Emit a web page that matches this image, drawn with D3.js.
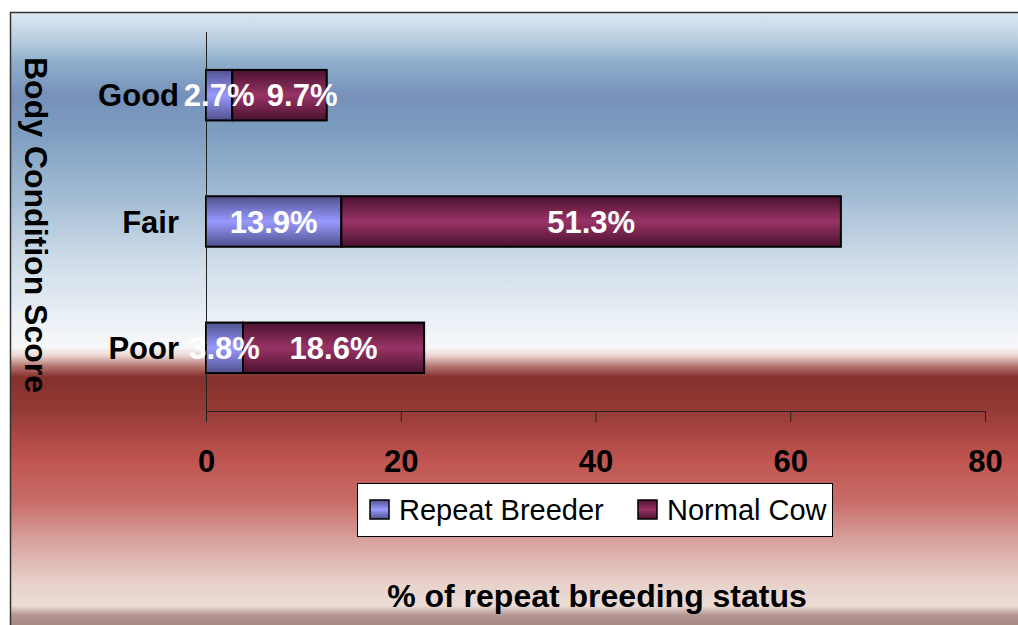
<!DOCTYPE html>
<html>
<head>
<meta charset="utf-8">
<script src="https://cdn.jsdelivr.net/npm/d3@7"></script>
<style>
  body { margin: 0; background: #fff; }
  svg { display: block; font-family: Arial, "Liberation Sans", sans-serif; }
</style>
</head>
<body>
<svg id="chart" width="1018" height="625"></svg>
<script>
// chart data
var categories = ['Good', 'Fair', 'Poor'];
var seriesNames = ['Repeat Breeder', 'Normal Cow'];
var repeatBreeder = [2.7, 13.9, 3.8];
var normalCow = [9.7, 51.3, 18.6];
var xTicks = [0, 20, 40, 60, 80];

var svg = d3.select('#chart');
var defs = svg.append('defs');

// background of the plot frame
var bg = defs.append('linearGradient').attr('id', 'bgGrad')
    .attr('x1', 0).attr('y1', 0).attr('x2', 0).attr('y2', 1);
[
    [0.00, '#dde9f4'], [0.045, '#b8cde0'], [0.08, '#8faecb'], [0.135, '#7690b9'],
    [0.19, '#7c9dc0'], [0.30, '#a3bcd4'], [0.40, '#cfdce8'], [0.50, '#ecf1f7'],
    [0.54, '#f7f8fa'], [0.553, '#eed8d4'], [0.57, '#b77874'], [0.588, '#84302c'],
    [0.64, '#943a36'], [0.72, '#bf544f'], [0.79, '#c86d69'], [0.85, '#d7a09c'],
    [0.92, '#e7d1cb'], [0.957, '#ecdcd6'], [0.972, '#b39592'], [1.00, '#a08078']
].forEach(function(s){
    bg.append('stop').attr('offset', s[0]).attr('stop-color', s[1]);
});

// bar fills
var barColors = [['#50508c', '#9999ff'], ['#4a1230', '#993366']];
barColors.forEach(function(c, i){
    var g = defs.append('linearGradient').attr('id', 'barGrad' + i)
        .attr('x1', 0).attr('y1', 0).attr('x2', 0).attr('y2', 1);
    g.append('stop').attr('offset', 0).attr('stop-color', c[0]);
    g.append('stop').attr('offset', 0.5).attr('stop-color', c[1]);
    g.append('stop').attr('offset', 1).attr('stop-color', c[0]);
});

svg.append('rect')
    .attr('x', 10.5).attr('y', 12.5)
    .attr('width', 1012).attr('height', 620)
    .attr('fill', 'url(#bgGrad)')
    .attr('stroke', '#333').attr('stroke-width', 1.5);

var x = d3.scaleLinear().domain([0, 80]).range([206, 985]);
var y = d3.scaleBand().domain(categories).range([32, 411])
    .paddingInner(0.6).paddingOuter(0.3);

// stacked data
var rows = categories.map(function(c, i){
    return { cat: c, 'Repeat Breeder': repeatBreeder[i], 'Normal Cow': normalCow[i] };
});
var stacked = d3.stack().keys(seriesNames)(rows);

var layers = svg.selectAll('g.layer')
    .data(stacked)
    .enter()
    .append('g')
    .attr('class', 'layer')
    .attr('fill', function(d, i){ return 'url(#barGrad' + i + ')'; });

layers.selectAll('rect')
    .data(function(d){ return d; })
    .enter()
    .append('rect')
    .attr('x', function(d){ return x(d[0]); })
    .attr('y', function(d){ return y(d.data.cat); })
    .attr('width', function(d){ return x(d[1]) - x(d[0]); })
    .attr('height', y.bandwidth())
    .attr('stroke', '#000')
    .attr('stroke-width', 2);

// axes
var xAxis = svg.append('g')
    .attr('transform', 'translate(0,411)')
    .call(d3.axisBottom(x).tickValues(xTicks).tickSize(11).tickFormat(d3.format('d')));
xAxis.select('.domain').attr('stroke', '#222').attr('d', 'M206,0.5H985');
xAxis.selectAll('.tick line').attr('stroke', '#222');
xAxis.selectAll('.tick text')
    .attr('y', 61)
    .attr('dy', 0)
    .attr('fill', '#000')
    .style('font-size', '31px')
    .style('font-weight', 'bold')
    .style('font-family', 'Arial, "Liberation Sans", sans-serif');

var yAxis = svg.append('g')
    .attr('transform', 'translate(206,0)')
    .call(d3.axisLeft(y).tickSize(0).tickPadding(27));
yAxis.select('.domain').attr('stroke', '#222').attr('d', 'M0.5,32V411');
yAxis.selectAll('.tick text')
    .attr('dy', '0.36em')
    .attr('fill', '#000')
    .style('font-size', '31px')
    .style('font-weight', 'bold')
    .style('font-family', 'Arial, "Liberation Sans", sans-serif');

// data labels, centred on segments, pushed apart if they collide
var labels = [];
categories.forEach(function(c, ci){
    var prevRight = -Infinity;
    stacked.forEach(function(layer){
        var d = layer[ci];
        var val = d[1] - d[0];
        var t = val.toFixed(1) + '%';
        var w = t.length * 16.5;
        var cx = (x(d[0]) + x(d[1])) / 2;
        if (cx - w / 2 < prevRight + 17) cx = prevRight + 17 + w / 2;
        prevRight = cx + w / 2;
        labels.push({ cat: c, text: t, cx: cx });
    });
});
svg.selectAll('text.dlabel')
    .data(labels)
    .enter()
    .append('text')
    .attr('class', 'dlabel')
    .attr('x', function(d){ return d.cx; })
    .attr('y', function(d){ return y(d.cat) + y.bandwidth() / 2; })
    .attr('dy', '0.36em')
    .attr('text-anchor', 'middle')
    .attr('fill', '#fff')
    .style('font-size', '31px')
    .style('font-weight', 'bold')
    .text(function(d){ return d.text; });

// legend
var legend = svg.append('g');
legend.append('rect')
    .attr('x', 357.5).attr('y', 483.5)
    .attr('width', 475).attr('height', 53)
    .attr('fill', '#fff').attr('stroke', '#000').attr('stroke-width', 1);
var legendX = [370, 638];
var items = legend.selectAll('g.item')
    .data(seriesNames)
    .enter()
    .append('g')
    .attr('transform', function(d, i){ return 'translate(' + legendX[i] + ',510)'; });
items.append('rect')
    .attr('x', 0).attr('y', -10)
    .attr('width', 19).attr('height', 19)
    .attr('fill', function(d, i){ return 'url(#barGrad' + i + ')'; })
    .attr('stroke', '#000').attr('stroke-width', 1.5);
items.append('text')
    .attr('x', 29).attr('y', 0)
    .attr('dy', '0.36em')
    .attr('fill', '#000')
    .style('font-size', '29px')
    .text(function(d){ return d; });

// axis titles
svg.append('text')
    .attr('x', 597).attr('y', 607)
    .attr('text-anchor', 'middle')
    .attr('fill', '#000')
    .style('font-size', '32px')
    .style('font-weight', 'bold')
    .text('% of repeat breeding status');

svg.append('text')
    .attr('transform', 'translate(25,225) rotate(90)')
    .attr('text-anchor', 'middle')
    .attr('fill', '#000')
    .style('font-size', '32px')
    .style('font-weight', 'bold')
    .text('Body Condition Score');
</script>
</body>
</html>
